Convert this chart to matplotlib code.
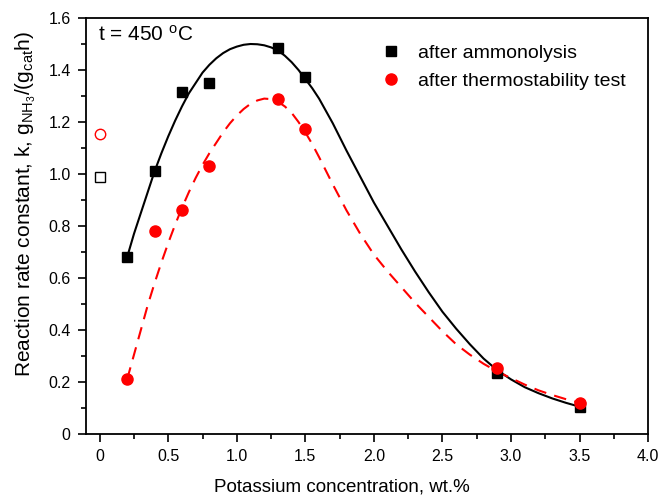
import matplotlib
matplotlib.use("Agg")
import matplotlib.pyplot as plt
from matplotlib.ticker import MultipleLocator, FuncFormatter

plt.rcParams['font.family'] = ['Liberation Sans', 'DejaVu Sans']
plt.rcParams['mathtext.fontset'] = 'custom'
plt.rcParams['mathtext.rm'] = 'Liberation Sans'
plt.rcParams['mathtext.it'] = 'Liberation Sans:italic'
plt.rcParams['mathtext.bf'] = 'Liberation Sans:bold'

# measured points
k_conc = [0.2, 0.4, 0.6, 0.8, 1.3, 1.5, 2.9, 3.5]
k_ammonolysis = [0.68, 1.01, 1.315, 1.35, 1.485, 1.375, 0.235, 0.105]
k_thermo = [0.21, 0.78, 0.86, 1.03, 1.29, 1.175, 0.255, 0.12]

# unpromoted sample (0 wt.%)
k0_conc = [0.0]
k0_ammonolysis = [0.99]
k0_thermo = [1.155]

# fitted curves
fit_a_x = [0.20, 0.25, 0.30, 0.35, 0.40, 0.45, 0.50, 0.55, 0.60, 0.65, 0.70, 0.75, 0.80, 0.85,
           0.90, 0.95, 1.00, 1.05, 1.10, 1.15, 1.20, 1.25, 1.30, 1.35, 1.40, 1.45, 1.50, 1.55,
           1.60, 1.70, 1.80, 1.90, 2.00, 2.10, 2.20, 2.30, 2.40, 2.50, 2.60, 2.70, 2.80, 2.90,
           3.00, 3.10, 3.20, 3.30, 3.40, 3.50]
fit_a_y = [0.68, 0.77, 0.85, 0.93, 1.01, 1.08, 1.145, 1.205, 1.26, 1.31, 1.35, 1.39, 1.42, 1.445,
           1.465, 1.48, 1.49, 1.497, 1.50, 1.499, 1.495, 1.487, 1.475, 1.455, 1.43, 1.40, 1.365, 1.33,
           1.29, 1.195, 1.09, 0.99, 0.89, 0.80, 0.71, 0.625, 0.545, 0.47, 0.405, 0.345, 0.29, 0.245,
           0.21, 0.18, 0.157, 0.137, 0.12, 0.105]
fit_t_x = [0.20, 0.25, 0.30, 0.35, 0.40, 0.45, 0.50, 0.55, 0.60, 0.65, 0.70, 0.75, 0.80, 0.85,
           0.90, 0.95, 1.00, 1.05, 1.10, 1.15, 1.20, 1.25, 1.30, 1.35, 1.40, 1.45, 1.50, 1.55,
           1.60, 1.70, 1.80, 1.90, 2.00, 2.10, 2.20, 2.30, 2.40, 2.50, 2.60, 2.70, 2.80, 2.90,
           3.00, 3.10, 3.20, 3.30, 3.40, 3.50]
fit_t_y = [0.21, 0.305, 0.40, 0.495, 0.58, 0.66, 0.735, 0.805, 0.87, 0.93, 0.985, 1.035, 1.08, 1.12,
           1.16, 1.195, 1.225, 1.25, 1.27, 1.283, 1.29, 1.288, 1.278, 1.26, 1.235, 1.20, 1.16, 1.115,
           1.065, 0.96, 0.86, 0.77, 0.69, 0.625, 0.565, 0.505, 0.45, 0.395, 0.345, 0.305, 0.27, 0.24,
           0.215, 0.19, 0.168, 0.15, 0.134, 0.12]

fig = plt.figure(figsize=(6.58, 5.0), dpi=100)
ax = fig.add_axes([0.1307, 0.132, 0.8543, 0.832])

ax.plot(fit_a_x, fit_a_y, color='black', lw=1.5, zorder=2)
ax.plot(fit_t_x, fit_t_y, color='#ff0000', lw=1.5, dashes=(6, 4), zorder=2)

ax.plot(k_conc, k_ammonolysis, 's', color='black', ms=7.5, ls='none',
        label='after ammonolysis', zorder=3)
ax.plot(k_conc, k_thermo, 'o', color='#ff0000', ms=8, ls='none',
        label='after thermostability test', zorder=3)
ax.plot(k0_conc, k0_ammonolysis, 's', mfc='white', mec='black', mew=1.0, ms=6.5, ls='none', zorder=3)
ax.plot(k0_conc, k0_thermo, 'o', mfc='white', mec='#ff0000', mew=1.0, ms=7.5, ls='none', zorder=3)

ax.set_xlim(-0.1, 4.0)
ax.set_ylim(0, 1.6)
ax.xaxis.set_major_locator(MultipleLocator(0.5))
ax.xaxis.set_minor_locator(MultipleLocator(0.25))
ax.yaxis.set_major_locator(MultipleLocator(0.2))
ax.yaxis.set_minor_locator(MultipleLocator(0.1))
fmt = FuncFormatter(lambda v, p: '0' if abs(v) < 1e-9 else f'{v:.1f}')
ax.xaxis.set_major_formatter(fmt)
ax.yaxis.set_major_formatter(fmt)
ax.tick_params(which='major', direction='out', length=6, width=1.2, labelsize=11.5,
               colors='black', pad=5)
ax.tick_params(which='minor', direction='out', length=3.5, width=1.2)
ax.tick_params(top=False, right=False, which='both')
for s in ax.spines.values():
    s.set_linewidth(1.3)

ax.set_xlabel('Potassium concentration, wt.%', fontsize=13.5)
ax.xaxis.set_label_coords(0.455, -0.108)
ax.set_ylabel(r'Reaction rate constant, k, g$_{\mathregular{NH}_3}$/(g$_{\mathregular{cat}}$h)',
              fontsize=15)
ax.yaxis.set_label_coords(-0.086, 0.553)

ax.text(-0.015, 1.537, r't = 450 $^{\mathregular{o}}$C', fontsize=15, ha='left', va='center')

leg = ax.legend(loc='upper left', bbox_to_anchor=(0.525, 0.937), frameon=False, fontsize=14,
                handlelength=1.0, handletextpad=0.9, labelspacing=0.55, borderaxespad=0.0,
                borderpad=0.0)

fig.savefig('out.png', dpi=100)
